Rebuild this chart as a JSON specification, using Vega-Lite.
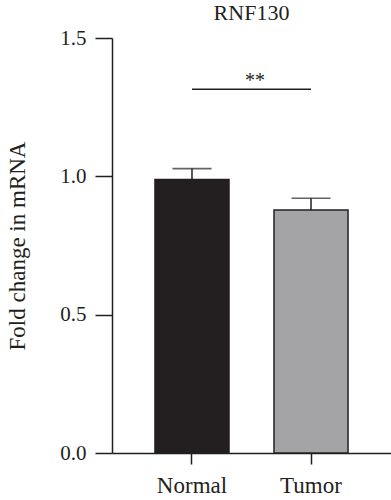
{
  "$schema": "https://vega.github.io/schema/vega-lite/v6.json",
  "width": 279,
  "height": 415,
  "autosize": {"type": "none"},
  "padding": {"left": 112, "top": 38, "right": 0, "bottom": 47},
  "background": "white",
  "title": {"text": "RNF130", "font": "Liberation Serif", "fontSize": 22, "fontWeight": "normal", "color": "#231f20", "anchor": "middle", "offset": 2},
  "config": {
    "view": {"stroke": null},
    "axis": {"labelFont": "Liberation Serif", "titleFont": "Liberation Serif", "labelColor": "#231f20", "titleColor": "#231f20", "domainColor": "#231f20", "tickColor": "#231f20", "domainWidth": 1.5, "tickWidth": 1.5, "grid": false, "titleFontWeight": "normal"}
  },
  "datasets": {
    "bars": [
      {"group": "Normal", "mean": 0.989, "upper": 1.028},
      {"group": "Tumor", "mean": 0.878, "upper": 0.921}
    ],
    "sig": [
      {"from": "Normal", "to": "Tumor", "y": 1.315, "label": "**"}
    ]
  },
  "layer": [
    {
      "data": {"name": "bars"},
      "mark": {"type": "bar", "stroke": "#231f20", "strokeWidth": 1.5},
      "encoding": {
        "x": {"field": "group", "type": "nominal", "sort": ["Normal", "Tumor"],
              "scale": {"domain": ["Normal", "Tumor"], "paddingInner": 0.378, "paddingOuter": 0.361},
              "axis": {"title": null, "labelAngle": 0, "labelFontSize": 23, "tickSize": 11, "labelPadding": 10}},
        "y": {"field": "mean", "type": "quantitative",
              "scale": {"domain": [0, 1.5], "nice": false},
              "axis": {"title": "Fold change in mRNA", "values": [0, 0.5, 1, 1.5], "format": ".1f", "labelFontSize": 21, "titleFontSize": 23, "tickSize": 17, "labelPadding": 9, "titlePadding": 30}},
        "fill": {"field": "group", "type": "nominal", "scale": {"domain": ["Normal", "Tumor"], "range": ["#231f20", "#a4a4a6"]}, "legend": null}
      }
    },
    {
      "data": {"name": "bars"},
      "mark": {"type": "rule", "color": "#231f20", "strokeWidth": 1.5},
      "encoding": {
        "x": {"field": "group", "type": "nominal"},
        "y": {"field": "mean", "type": "quantitative"},
        "y2": {"field": "upper"}
      }
    },
    {
      "data": {"name": "bars"},
      "mark": {"type": "tick", "color": "#231f20", "size": 39, "thickness": 1.6, "orient": "horizontal"},
      "encoding": {
        "x": {"field": "group", "type": "nominal"},
        "y": {"field": "upper", "type": "quantitative"}
      }
    },
    {
      "data": {"name": "sig"},
      "mark": {"type": "rule", "color": "#231f20", "strokeWidth": 1.5},
      "encoding": {
        "x": {"field": "from", "type": "nominal"},
        "x2": {"field": "to"},
        "x2Offset": {"value": 7},
        "y": {"field": "y", "type": "quantitative"}
      }
    },
    {
      "data": {"name": "sig"},
      "mark": {"type": "text", "font": "Liberation Serif", "fontSize": 20, "color": "#231f20", "baseline": "alphabetic", "align": "center", "dx": 63, "dy": -2},
      "encoding": {
        "x": {"field": "from", "type": "nominal"},
        "y": {"field": "y", "type": "quantitative"},
        "text": {"field": "label"}
      }
    }
  ]
}
